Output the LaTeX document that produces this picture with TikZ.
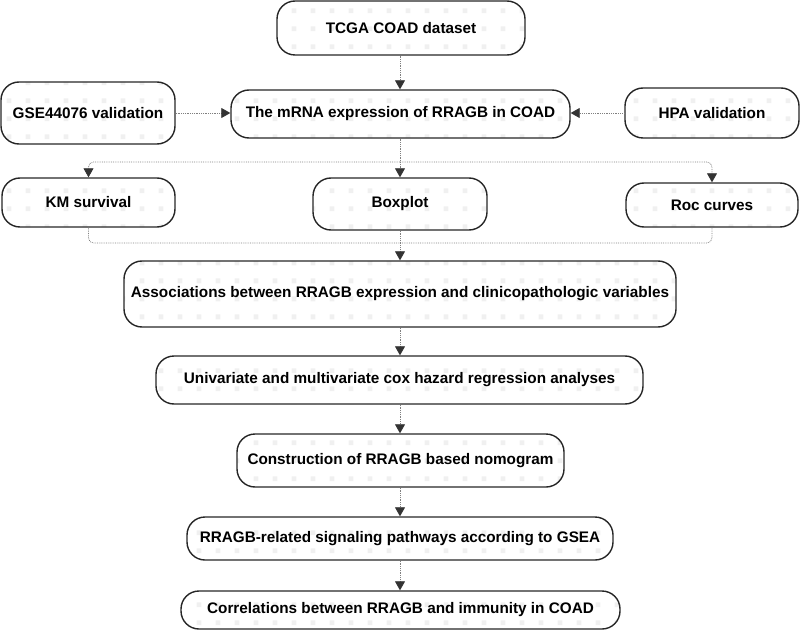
\documentclass[tikz,border=0pt]{standalone}
\usepackage{fontspec}
\setmainfont{Liberation Sans}
\usetikzlibrary{arrows.meta,patterns.meta}
\tikzdeclarepattern{
  name=wmark,
  type=uncolored,
  bounding box={(0pt,0pt) and (19pt,18pt)},
  tile size={(19pt,18pt)},
  code={\pgfpathrectangle{\pgfpoint{7pt}{6pt}}{\pgfpoint{5pt}{5pt}}\pgfusepath{fill}}
}
\begin{document}
\begin{tikzpicture}[x=1pt,y=-1pt,
  boxstyle/.style={draw=black!85, line width=1.4pt, rounded corners=18pt,
    pattern={wmark}, pattern color=black!6,
    font=\fontsize{15.3}{18}\selectfont\bfseries, text=black, inner sep=0pt, align=center},
  conn/.style={draw=black!50, line width=0.8pt, densely dotted,
    -{Triangle[width=10pt,length=9pt,color=black!80,fill=black!80]}},
  plainline/.style={draw=black!50, line width=0.8pt, densely dotted}
]
\useasboundingbox (0,0) rectangle (800,631);

\newcommand{\bx}[6]{% name, x1, y1, x2, y2, text
  \node[boxstyle, minimum width={(#4-#2)*1pt}, minimum height={(#5-#3)*1pt}]
    (#1) at ({(#2+#4)/2},{(#3+#5)/2}) {#6};}

\bx{tcga}{277}{1}{525}{55}{TCGA COAD dataset}
\bx{gse}{1}{82}{175}{144}{GSE44076 validation}
\bx{mrna}{231}{90}{570}{138}{The mRNA expression of RRAGB in COAD}
\bx{hpa}{625}{88}{799}{138}{HPA validation}
\bx{km}{2}{178}{175}{227}{KM survival}
\bx{boxp}{313}{178}{487}{230}{Boxplot}
\bx{roc}{626}{183}{798}{227}{Roc curves}
\bx{assoc}{124}{261}{676}{327}{Associations between RRAGB expression and clinicopathologic variables}
\bx{univ}{156}{356}{643}{404}{Univariate and multivariate cox hazard regression analyses}
\bx{cons}{237}{434}{564}{487}{Construction of RRAGB based nomogram}
\bx{gsea}{187}{517}{613}{560}{RRAGB-related signaling pathways according to GSEA}
\bx{corr}{181}{591}{620}{629}{Correlations between RRAGB and immunity in COAD}

\coordinate (split) at (400,162);
\coordinate (merge) at (400,243);

\draw[conn] (tcga.south -| 400,0) -- (mrna.north -| 400,0);
\draw[conn] (gse.east) -- (gse.east -| mrna.west);
\draw[conn] (hpa.west) -- (hpa.west -| mrna.east);

\draw[plainline] (mrna.south -| split) -- (split);
\draw[conn, rounded corners=5pt] (split) -| (km.north);
\draw[conn, rounded corners=5pt] (split) -| (roc.north);
\draw[conn] (split) -- (boxp.north);

\draw[plainline, rounded corners=5pt] (km.south) |- (merge);
\draw[plainline, rounded corners=5pt] (roc.south) |- (merge);
\draw[conn] (boxp.south) -- (assoc.north -| boxp.south);

\draw[conn] (assoc.south -| 400,0) -- (univ.north -| 400,0);
\draw[conn] (univ.south -| 400,0) -- (cons.north -| 400,0);
\draw[conn] (cons.south -| 400,0) -- (gsea.north -| 400,0);
\draw[conn] (gsea.south -| 400,0) -- (corr.north -| 400,0);
\end{tikzpicture}
\end{document}
